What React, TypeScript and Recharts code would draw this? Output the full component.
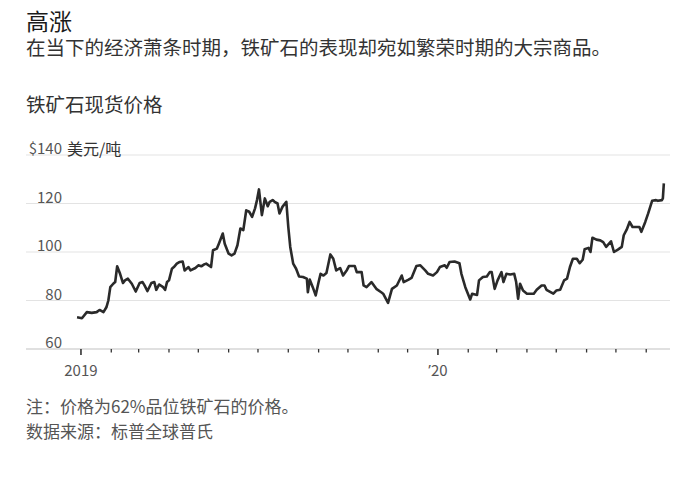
import React from 'react';
import { LineChart, Line, XAxis, YAxis, CartesianGrid } from 'recharts';

const dates = [
  '2018-12-28','2019-01-02','2019-01-07','2019-01-12','2019-01-17','2019-01-20','2019-01-24','2019-01-27','2019-01-29','2019-01-31',
  '2019-02-03','2019-02-05','2019-02-07','2019-02-10','2019-02-13','2019-02-15','2019-02-18','2019-02-22','2019-02-26','2019-03-02',
  '2019-03-05','2019-03-07','2019-03-10','2019-03-14','2019-03-17','2019-03-19','2019-03-22','2019-03-26','2019-03-28','2019-03-30',
  '2019-04-01','2019-04-04','2019-04-06','2019-04-09','2019-04-12','2019-04-15','2019-04-17','2019-04-21','2019-04-23','2019-04-28',
  '2019-05-01','2019-05-04','2019-05-07','2019-05-09','2019-05-14','2019-05-16','2019-05-20','2019-05-22','2019-05-26','2019-05-28',
  '2019-06-01','2019-06-04','2019-06-07','2019-06-10','2019-06-13','2019-06-16','2019-06-19','2019-06-22','2019-06-25','2019-06-28',
  '2019-06-30','2019-07-02','2019-07-05','2019-07-08','2019-07-11','2019-07-13','2019-07-16','2019-07-18','2019-07-21','2019-07-23',
  '2019-07-26','2019-07-30','2019-08-01','2019-08-03','2019-08-06','2019-08-09','2019-08-12','2019-08-16','2019-08-20','2019-08-21',
  '2019-08-23','2019-08-26','2019-08-29','2019-09-01','2019-09-03','2019-09-06','2019-09-09','2019-09-13','2019-09-16','2019-09-19',
  '2019-09-23','2019-09-26','2019-09-30','2019-10-02','2019-10-08','2019-10-10','2019-10-15','2019-10-17','2019-10-20','2019-10-25',
  '2019-10-30','2019-11-04','2019-11-06','2019-11-11','2019-11-15','2019-11-20','2019-11-25','2019-11-27','2019-12-02','2019-12-05',
  '2019-12-10','2019-12-14','2019-12-19','2019-12-22','2019-12-27','2019-12-31','2020-01-03','2020-01-08','2020-01-10','2020-01-13',
  '2020-01-18','2020-01-23','2020-01-25','2020-01-29','2020-02-03','2020-02-05','2020-02-10','2020-02-12','2020-02-16','2020-02-20',
  '2020-02-23','2020-02-25','2020-02-28','2020-03-02','2020-03-06','2020-03-08','2020-03-11','2020-03-15','2020-03-19','2020-03-21',
  '2020-03-23','2020-03-25','2020-03-28','2020-04-01','2020-04-08','2020-04-11','2020-04-16','2020-04-19','2020-04-21','2020-04-28',
  '2020-05-01','2020-05-05','2020-05-09','2020-05-12','2020-05-15','2020-05-18','2020-05-22','2020-05-25','2020-05-28','2020-05-30',
  '2020-06-03','2020-06-05','2020-06-07','2020-06-11','2020-06-15','2020-06-18','2020-06-21','2020-06-26','2020-06-29','2020-07-03',
  '2020-07-07','2020-07-09','2020-07-12','2020-07-15','2020-07-18','2020-07-22','2020-07-25','2020-07-27','2020-07-31','2020-08-03',
  '2020-08-07','2020-08-11','2020-08-13','2020-08-17','2020-08-18','2020-08-19',
];

const prices = [
  73.1, 72.7, 75.2, 74.9, 75.2, 76.1, 75.2, 77.2, 80.0, 85.5,
  86.9, 87.6, 94.1, 91.0, 87.2, 88.3, 89.0, 86.9, 83.7, 87.2,
  87.6, 86.2, 83.9, 87.2, 87.6, 84.4, 86.6, 85.5, 84.4, 87.6,
  88.3, 93.1, 93.8, 95.2, 95.9, 96.1, 92.4, 93.8, 92.4, 93.4,
  94.5, 94.1, 94.9, 95.2, 93.8, 100.7, 101.4, 103.4, 107.6, 103.4,
  99.3, 98.6, 99.3, 102.8, 109.7, 109.0, 117.2, 116.6, 114.5, 118.0,
  121.4, 125.8, 115.2, 122.1, 118.9, 120.7, 121.4, 120.7, 120.0, 115.9,
  118.6, 120.7, 110.3, 102.1, 95.2, 93.1, 89.9, 89.7, 89.0, 83.4,
  88.6, 85.5, 82.1, 87.6, 91.0, 90.3, 91.3, 99.0, 97.2, 92.4,
  93.4, 90.3, 92.6, 94.2, 94.2, 91.7, 91.7, 86.2, 85.5, 87.6,
  84.8, 83.4, 82.8, 79.0, 84.8, 86.2, 90.3, 87.6, 88.6, 89.3,
  94.2, 94.5, 92.4, 91.0, 90.3, 91.7, 93.8, 94.5, 93.5, 95.9,
  96.1, 95.4, 91.0, 85.5, 80.4, 82.8, 82.3, 88.3, 89.7, 89.9,
  91.7, 91.7, 84.8, 88.3, 91.7, 87.6, 91.0, 90.7, 91.0, 87.6,
  80.7, 86.9, 84.1, 82.8, 82.8, 84.4, 86.2, 86.2, 84.4, 82.8,
  84.1, 84.4, 88.3, 89.0, 93.8, 97.2, 97.2, 95.4, 96.8, 101.1,
  101.7, 100.0, 105.9, 105.1, 104.8, 104.1, 102.1, 104.4, 100.0, 101.0,
  102.1, 106.9, 109.2, 112.4, 110.3, 110.3, 110.3, 108.3, 112.4, 115.9,
  121.1, 121.4, 121.1, 121.4, 122.1, 128.3,
];

const tickDates = [
  '2019-01-01','2019-02-01','2019-03-01','2019-04-01','2019-05-01','2019-06-01','2019-07-01','2019-08-01','2019-09-01','2019-10-01',
  '2019-11-01','2019-12-01','2020-01-01','2020-02-01','2020-03-01','2020-04-01','2020-05-01','2020-06-01','2020-07-01','2020-08-01',
];
const yearTickDates = ['2019-01-01', '2020-01-01'];
const yearTickPrefixes = ['', '\u2019'];
const yearTickLabels = ['2019', '20'];

const yTicks = [60, 80, 100, 120, 140];
const yUnit = '美元/吨';

const title = '高涨';
const subtitle = '在当下的经济萧条时期，铁矿石的表现却宛如繁荣时期的大宗商品。';
const chartTitle = '铁矿石现货价格';
const note = '注：价格为62%品位铁矿石的价格。';
const source = '数据来源：标普全球普氏';

const BASE = Date.parse('2019-01-01');
const dayOf = (d: string) => (Date.parse(d) - BASE) / 86400000;

const data = dates.map((d, i) => ({ t: dayOf(d), price: prices[i] }));
const xTicks = tickDates.map(dayOf);
const yearIndexByDay: Record<number, number> = {};
yearTickDates.forEach((d, i) => {
  yearIndexByDay[dayOf(d)] = i;
});

const FONT = '"Noto Sans CJK SC", "Noto Sans", sans-serif';
const LATIN = '"Noto Sans", "DejaVu Sans", sans-serif';

const XTick = (props: any) => {
  const { x, y, payload } = props;
  const idx = yearIndexByDay[payload.value];
  const isYear = idx !== undefined;
  return (
    <g>
      <line x1={x} x2={x} y1={y} y2={y + (isYear ? 6 : 3.5)} stroke="#333" strokeWidth={isYear ? 1.6 : 1.3} />
      {isYear && (
        <text x={x} y={y + 20} textAnchor="middle" dominantBaseline="central" fill="#555" fontSize={15} fontFamily={FONT}>
          {yearTickPrefixes[idx] && <tspan fontFamily={LATIN}>{yearTickPrefixes[idx]}</tspan>}
          <tspan>{yearTickLabels[idx]}</tspan>
        </text>
      )}
    </g>
  );
};

const YTick = (props: any) => {
  const { y, payload } = props;
  const isTop = payload.value === 140;
  const right = 62;
  return (
    <g>
      <text x={right} y={y - 7.5} textAnchor="end" dominantBaseline="central" fill="#555" fontSize={15} fontFamily={FONT}>
        {isTop ? `$${payload.value}` : payload.value}
      </text>
      {isTop && (
        <text x={right + 5} y={y - 7.5} textAnchor="start" dominantBaseline="central" fill="#333" fontSize={16} fontFamily={FONT}>
          {yUnit}
        </text>
      )}
    </g>
  );
};

const textStyle = (top: number, size: number, color: string): React.CSSProperties => ({
  position: 'absolute',
  left: 26,
  top,
  fontSize: size,
  lineHeight: `${size}px`,
  color,
  whiteSpace: 'nowrap',
  fontFamily: FONT,
});

export default function App() {
  return (
    <div style={{ position: 'absolute', left: 0, top: 0, width: 689, height: 478, background: '#fff', fontFamily: FONT, overflow: 'hidden' }}>
      <LineChart width={689} height={478} data={data} margin={{ top: 155, right: 19, bottom: 99, left: 16 }}>
        <CartesianGrid vertical={false} stroke="#e3e3e3" strokeWidth={1.2} />
        <XAxis
          dataKey="t"
          type="number"
          domain={[-56.2, 602.3]}
          allowDataOverflow
          ticks={xTicks}
          tick={<XTick />}
          tickLine={false}
          tickSize={0}
          tickMargin={0}
          axisLine={{ stroke: '#cfcfcf', strokeWidth: 1.2 }}
          height={30}
          interval={0}
        />
        <YAxis
          type="number"
          domain={[60, 140]}
          ticks={yTicks}
          tick={<YTick />}
          axisLine={false}
          tickLine={false}
          tickSize={0}
          tickMargin={0}
          width={10}
          interval={0}
        />
        <Line
          type="linear"
          dataKey="price"
          stroke="#2a2a2a"
          strokeWidth={2.6}
          strokeLinejoin="round"
          dot={false}
          isAnimationActive={false}
        />
      </LineChart>
      <div style={textStyle(9, 23, '#1a1a1a')}>{title}</div>
      <div style={textStyle(37, 19.5, '#333')}>{subtitle}</div>
      <div style={textStyle(93.5, 19.5, '#333')}>{chartTitle}</div>
      <div style={textStyle(396.5, 17, '#555')}>{note}</div>
      <div style={textStyle(421.5, 17, '#555')}>{source}</div>
    </div>
  );
}
